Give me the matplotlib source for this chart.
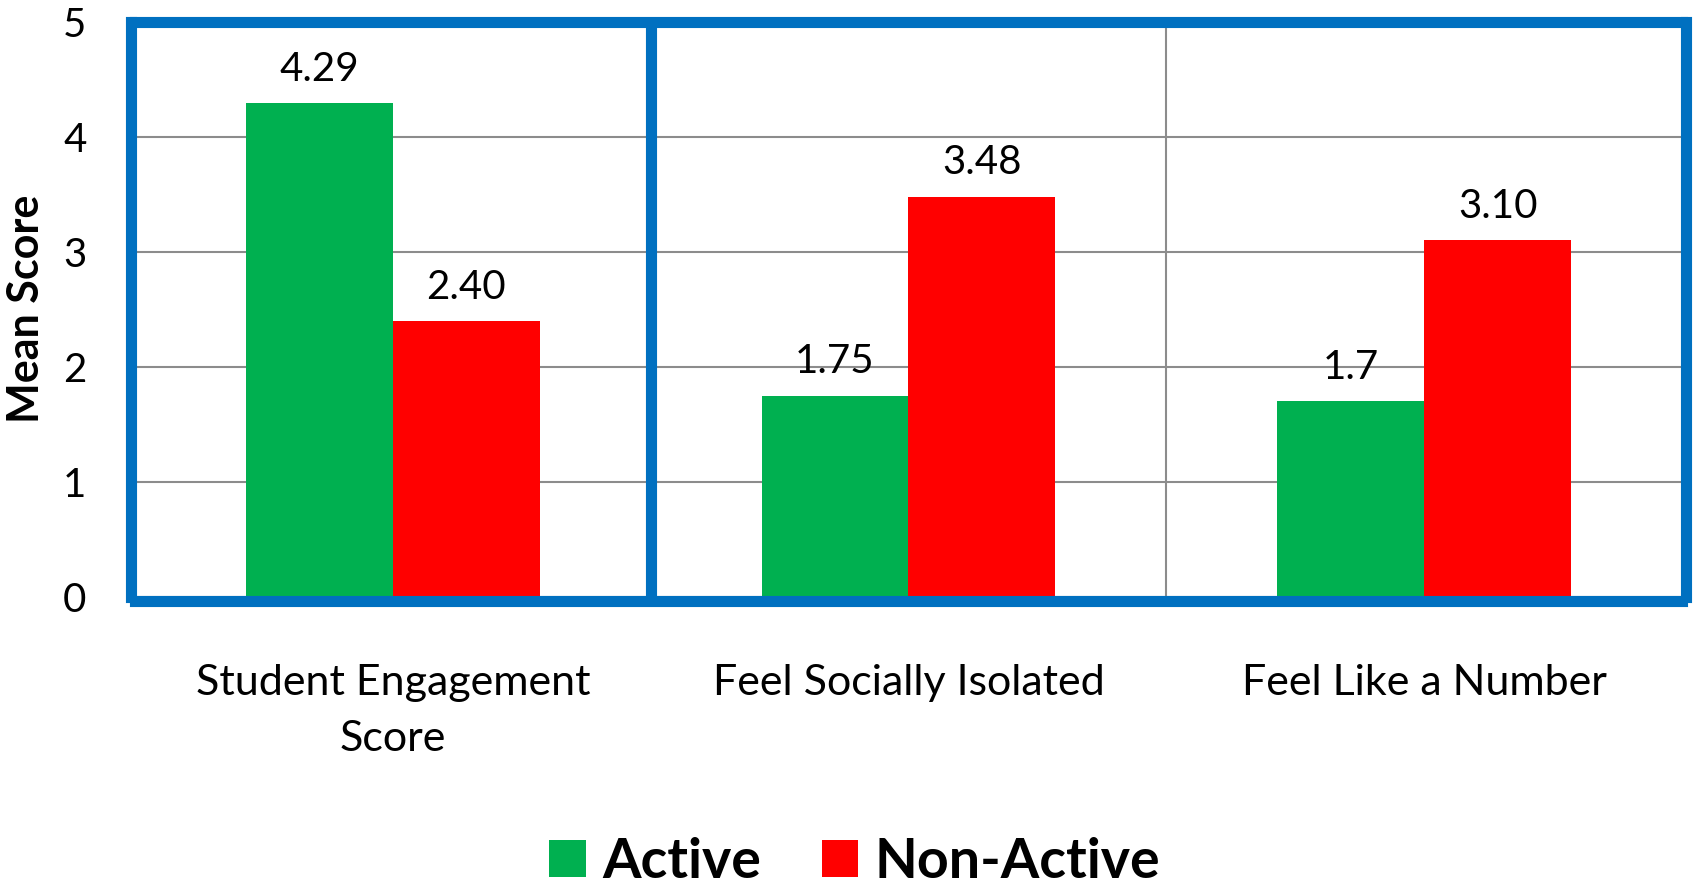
import numpy as np
import matplotlib
matplotlib.use("Agg")
import matplotlib.pyplot as plt
from matplotlib.patches import Patch

categories = ["Student Engagement\nScore", "Feel Socially Isolated", "Feel Like a Number"]
active = [4.29, 1.75, 1.7]
non_active = [2.40, 3.48, 3.10]
active_labels = ["4.29", "1.75", "1.7"]
non_active_labels = ["2.40", "3.48", "3.10"]

GREEN = "#00B050"
RED = "#FF0000"
BLUE = "#0070C0"
GRID = "#8C8C8C"

plt.rcParams['font.family'] = ['Lato', 'DejaVu Sans']

fig = plt.figure(figsize=(16.96, 8.85), dpi=100)
ax = fig.add_axes([0.0796, 0.3254, 0.9121, 0.6502])

x = np.arange(len(categories))
w = 0.285
b1 = ax.bar(x - w / 2, active, w, color=GREEN, zorder=3)
b2 = ax.bar(x + w / 2, non_active, w, color=RED, zorder=3)

for bars, labels in ((b1, active_labels), (b2, non_active_labels)):
    for bar, lab in zip(bars, labels):
        ax.annotate(lab, (bar.get_x() + bar.get_width() / 2, bar.get_height()),
                    xytext=(0, 11), textcoords="offset points",
                    ha="center", va="bottom", fontsize=29)

ax.set_xlim(-0.5, len(categories) - 0.5)
ax.set_ylim(0, 5)
ax.set_yticks(range(6))
ax.set_xticks(x)
ax.tick_params(axis="y", length=0, pad=32, labelsize=29)
ax.tick_params(axis="x", length=0, labelbottom=False)
ax.yaxis.grid(True, color=GRID, linewidth=1.5, zorder=1)
ax.set_axisbelow(True)

# category labels, two-line one needs wider spacing than tick labels give
for xi, cat in zip(x, categories):
    ax.annotate(cat, (xi, 0), xycoords=("data", "axes fraction"),
                xytext=(0, -48), textcoords="offset points",
                ha="center", va="top", fontsize=31, linespacing=1.6)

# category separators
ax.axvline(1.5, color=GRID, linewidth=1.5, zorder=1)
ax.axvline(0.5, color=BLUE, linewidth=8, zorder=4)

for side in ["left", "right", "bottom", "top"]:
    ax.spines[side].set_color(BLUE)
    ax.spines[side].set_linewidth(8)
    ax.spines[side].set_zorder(5)
for side in ["left", "right", "bottom"]:
    ax.spines[side].set_position(("outward", 3))

ax.set_ylabel("Mean Score", fontsize=31, fontweight="bold", labelpad=12)

handles = [Patch(facecolor=GREEN, label="Active"), Patch(facecolor=RED, label="Non-Active")]
fig.legend(handles=handles, loc="center", bbox_to_anchor=(855 / 1696, 1 - 862 / 885),
           ncol=2, frameon=False, prop={"size": 40, "weight": "bold"},
           handlelength=0.65, handleheight=0.65, handletextpad=0.3, columnspacing=1.1)

fig.savefig("out.png", dpi=100)
